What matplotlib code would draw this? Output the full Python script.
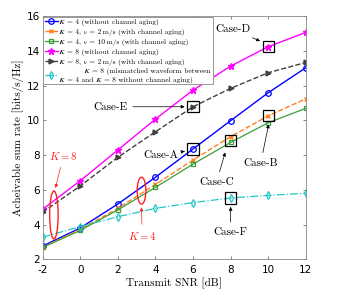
import matplotlib
matplotlib.use("Agg")
import matplotlib.pyplot as plt
from matplotlib.patches import Ellipse, Rectangle
from matplotlib.font_manager import FontProperties

plt.rcParams['mathtext.fontset'] = 'cm'
plt.rcParams['font.family'] = 'serif'
plt.rcParams['font.serif'] = ['cmr10', 'DejaVu Serif']
plt.rcParams['axes.formatter.use_mathtext'] = True

snr = [-2, 0, 2, 4, 6, 8, 10, 12]
k4_no_aging = [2.76, 3.80, 5.18, 6.72, 8.35, 9.98, 11.59, 13.03]
k4_v2 = [2.70, 3.72, 4.93, 6.31, 7.71, 9.06, 10.26, 11.24]
k4_v10 = [2.68, 3.66, 4.84, 6.14, 7.48, 8.73, 9.86, 10.69]
k8_no_aging = [4.88, 6.52, 8.29, 10.07, 11.74, 13.12, 14.24, 15.06]
k8_v2 = [4.71, 6.22, 7.87, 9.34, 10.78, 11.84, 12.74, 13.33]
k8_mismatch = [3.27, 3.88, 4.45, 4.93, 5.26, 5.53, 5.68, 5.80]

K = '\U0001D43E'
NU = '\U0001D708'
labels = [
    f'{K} = 4 (without channel aging)',
    f'{K} = 4, {NU} = 2\u2009m/s (with channel aging)',
    f'{K} = 4, {NU} = 10\u2009m/s (with channel aging)',
    f'{K} = 8 (without channel aging)',
    f'{K} = 8, {NU} = 2\u2009m/s (with channel aging)',
    f'          {K} = 8 (mismatched waveform between\n{K} = 4 and {K} = 8 without channel aging)',
]

fig = plt.figure(figsize=(3.41, 2.98), dpi=100)
ax = fig.add_axes([0.125, 0.130, 0.772, 0.816])

ax.plot(snr, k4_no_aging, '-o', color='#0000FF', lw=1.0, ms=4, mfc='none', mew=0.9, label=labels[0])
ax.plot(snr, k4_v2, '--x', color='#FF7F1E', lw=1.0, ms=3, mew=1.0, label=labels[1])
ax.plot(snr, k4_v10, '-s', color='#3A9E3A', lw=0.9, ms=3.5, mfc='none', mew=0.9, label=labels[2])
ax.plot(snr, k8_no_aging, '-*', color='#FF00FF', lw=1.0, ms=4.5, label=labels[3])
ax.plot(snr, k8_v2, '-->', color='#404040', lw=1.0, ms=3.5, label=labels[4])
ax.plot(snr, k8_mismatch, '-.d', color='#22C8C8', lw=0.9, ms=4, mfc='none', mew=0.9, label=labels[5])

ax.set_xlim(-2, 12)
ax.set_ylim(2, 16)
ax.set_xticks(snr)
ax.set_yticks([2, 4, 6, 8, 10, 12, 14, 16])
ax.set_xticklabels([str(v) for v in snr], family='DejaVu Sans', fontsize=7.5)
ax.set_yticklabels([str(v) for v in [2, 4, 6, 8, 10, 12, 14, 16]], family='DejaVu Sans', fontsize=7.5)
ax.tick_params(direction='in', top=True, right=True, length=2.5, width=0.5, color='#555555')
ax.tick_params(axis='x', pad=4)
ax.tick_params(axis='y', pad=2)
for s in ax.spines.values():
    s.set_color('#888888')
    s.set_linewidth(0.6)

ax.set_xlabel('Transmit SNR [dB]', fontsize=8, labelpad=2)
ax.set_ylabel('Acheivable sum rate [bits/s/Hz]', fontsize=8, labelpad=2)

legprop = FontProperties(family=['cmr10', 'STIXGeneral', 'DejaVu Serif'], size=5.3)
leg = ax.legend(loc='upper left', prop=legprop, handlelength=1.7, handletextpad=0.2,
                borderpad=0.25, labelspacing=0.38, borderaxespad=0.1,
                frameon=True, fancybox=False, edgecolor='#888888', framealpha=1)
leg.get_frame().set_linewidth(0.6)
leg.set_zorder(10)
for t in leg.get_texts():
    t.set_linespacing(1.1)

# Case boxes
def case_box(x, y):
    ax.add_patch(Rectangle((x - 0.3, y - 0.32), 0.6, 0.64, fill=False, ec='black', lw=0.9, zorder=5))

arrow = dict(arrowstyle='-|>', color='black', lw=0.5, mutation_scale=5)

case_box(10, 14.24)
ax.annotate('Case-D', xy=(9.7, 14.5), xytext=(8.1, 15.25), fontsize=8, ha='center', va='center', arrowprops=arrow)
case_box(6, 10.78)
ax.annotate('Case-E', xy=(5.7, 10.78), xytext=(1.6, 10.78), fontsize=8, ha='center', va='center', arrowprops=arrow)
case_box(6, 8.35)
ax.annotate('Case-A', xy=(5.7, 8.25), xytext=(4.3, 7.96), fontsize=8, ha='center', va='center', arrowprops=arrow)
case_box(8, 8.85)
ax.annotate('Case-C', xy=(7.75, 8.3), xytext=(7.25, 6.45), fontsize=8, ha='center', va='center', arrowprops=arrow)
case_box(10, 10.26)
ax.annotate('Case-B', xy=(10.05, 9.92), xytext=(9.6, 7.55), fontsize=8, ha='center', va='center', arrowprops=arrow)
case_box(8, 5.53)
ax.annotate('Case-F', xy=(8.0, 5.18), xytext=(8.0, 3.55), fontsize=8, ha='center', va='center', arrowprops=arrow)

# Red ellipses
red = '#FF2020'
ax.add_patch(Ellipse((-1.40, 4.55), 0.45, 2.76, fill=False, ec=red, lw=1.0, zorder=6))
ax.add_patch(Ellipse((3.26, 5.95), 0.46, 1.55, fill=False, ec=red, lw=1.0, zorder=6))
redarrow = dict(arrowstyle='-|>', color=red, lw=0.5, mutation_scale=5)
ax.annotate(r'$K=8$', xy=(-1.35, 5.95), xytext=(-0.9, 7.95), color=red, fontsize=8,
            ha='center', va='center', arrowprops=redarrow)
ax.annotate(r'$K=4$', xy=(3.25, 5.15), xytext=(3.3, 3.35), color=red, fontsize=8,
            ha='center', va='center', arrowprops=redarrow)

fig.savefig('out.png', dpi=100)
